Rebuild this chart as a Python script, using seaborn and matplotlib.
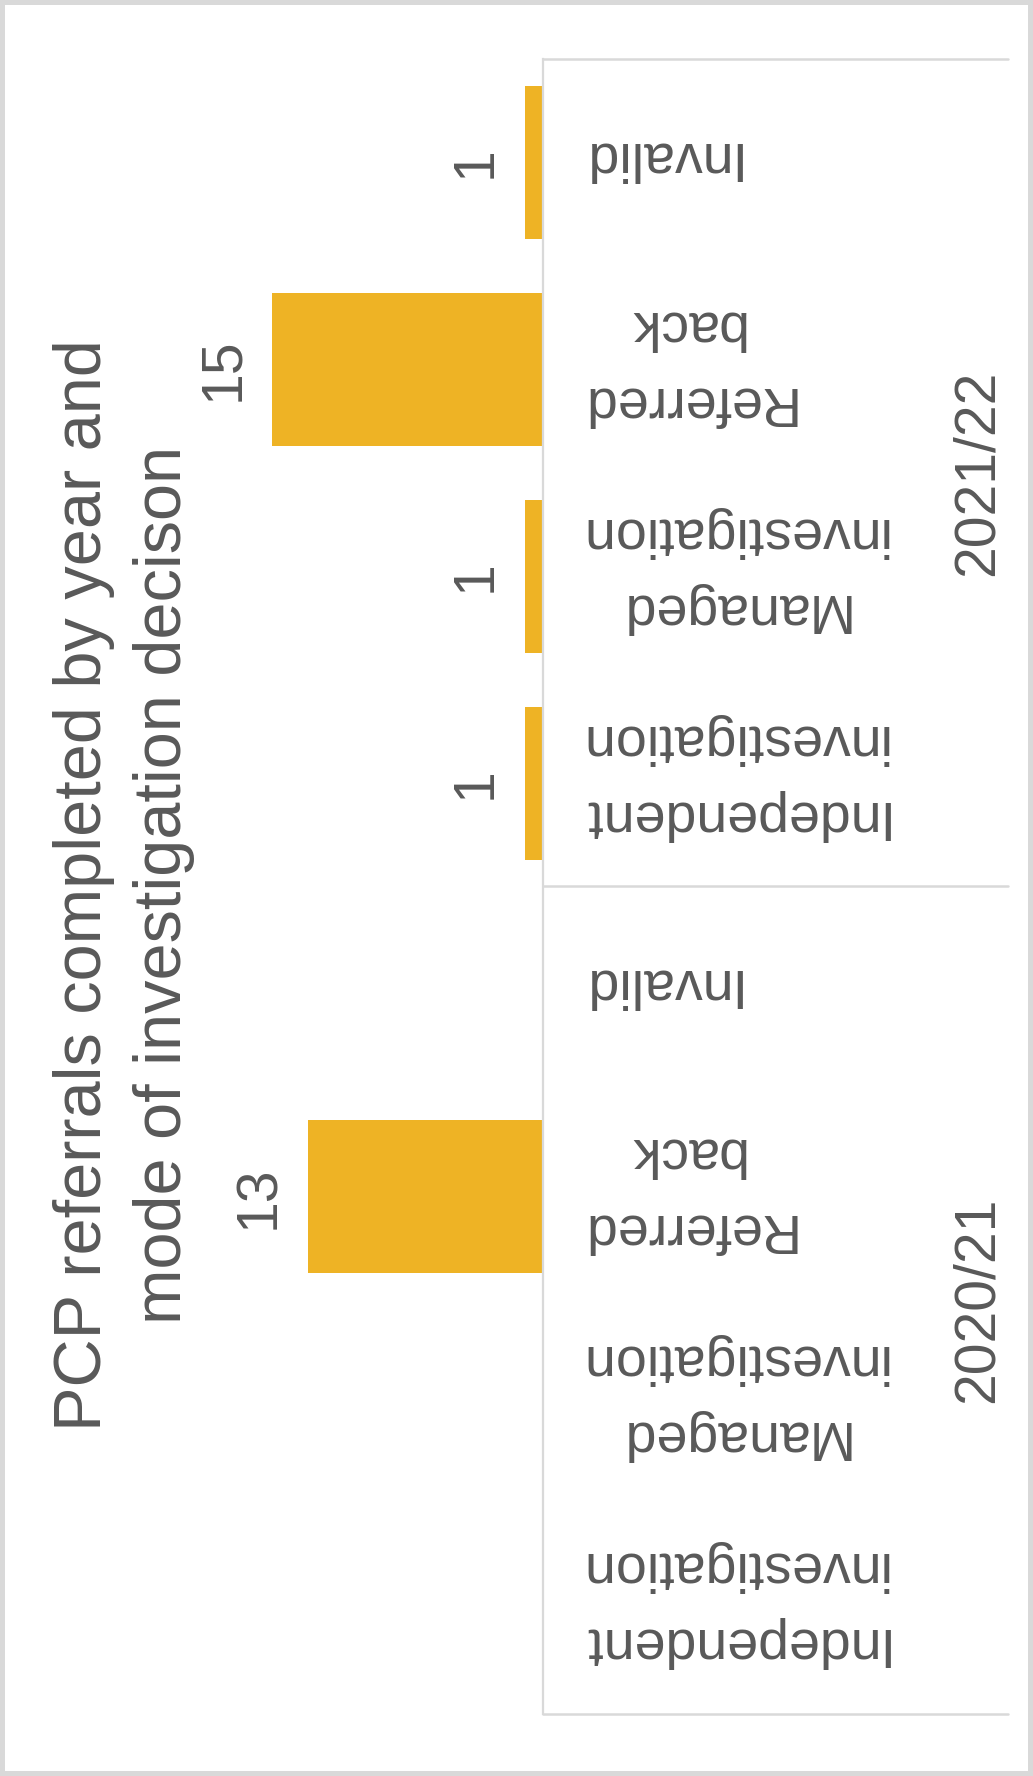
import matplotlib
matplotlib.use("Agg")
import matplotlib.pyplot as plt
import matplotlib.transforms as mtransforms
from matplotlib.lines import Line2D
import seaborn as sns
import pandas as pd

# ---- data -------------------------------------------------------------
years = ["2020/21", "2021/22"]
decisions = ["Independent\ninvestigation", "Managed\ninvestigation",
             "Referred\nback", "Invalid"]
counts_2020_21 = [0, 0, 13, 0]
counts_2021_22 = [1, 1, 15, 1]
title_lines = ["PCP referrals completed by year and",
               "mode of investigation decison"]

# ---- styling ----------------------------------------------------------
GOLD = "#EEB325"
TEXT = "#595959"
GRID = "#D9D9D9"

sns.set_theme(style="white")
plt.rcParams["font.family"] = ["Liberation Sans", "DejaVu Sans"]

W, H = 1033, 1776
fig = plt.figure(figsize=(W / 100, H / 100), dpi=100)
fig.patch.set_facecolor("white")
fig.patch.set_edgecolor(GRID)
fig.patch.set_linewidth(6)

# long table; the chart is laid out sideways with the latest year on top
counts = {"2020/21": counts_2020_21, "2021/22": counts_2021_22}
rows = []
for yr in reversed(years):
    for dec, val in reversed(list(zip(decisions, counts[yr]))):
        rows.append({"year": yr, "decision": dec,
                     "key": f"{yr}|{dec}", "count": val})
df = pd.DataFrame(rows)
order = list(df["key"])

# plot area: value axis grows to the left from x = 543 px
axis_x, top_y, bot_y = 543, 59, 1714
left_x = 20
px_per_count = 18.07
ax = fig.add_axes([left_x / W, 1 - bot_y / H,
                   (axis_x - left_x) / W, (bot_y - top_y) / H])

sns.barplot(data=df, x="count", y="key", order=order, orient="h",
            color=GOLD, saturation=1, width=0.74, linewidth=0, ax=ax)

ax.set_xlim((axis_x - left_x) / px_per_count, 0)
ax.set_ylim(len(order) - 0.5, -0.5)
ax.set_xticks([])
ax.set_yticks([])
ax.set_xlabel("")
ax.set_ylabel("")
for side in ("top", "left", "bottom"):
    ax.spines[side].set_visible(False)
ax.spines["right"].set_color(GRID)
ax.spines["right"].set_linewidth(1.6)

# value labels at the bar ends
ax.bar_label(ax.containers[0],
             labels=[str(v) if v else "" for v in df["count"]],
             padding=16, rotation=90, fontsize=41, color=TEXT)

trans = mtransforms.blended_transform_factory(fig.transFigure, ax.transData)

# decision labels (upside down, as in the sideways layout)
for i, dec in enumerate(df["decision"]):
    ax.text(577 / W, i - 0.03, dec, transform=trans, rotation=180,
            ha="left", va="center", multialignment="center",
            linespacing=1.6, fontsize=40, color=TEXT)

# year group labels and separators
n_per = len(decisions)
for g, yr in enumerate(reversed(years)):
    ax.text(978 / W, g * n_per + (n_per - 1) / 2, yr, transform=trans,
            rotation=90, ha="center", va="center", fontsize=41, color=TEXT)
for yb in [-0.5 + g * n_per for g in range(len(years) + 1)]:
    ax.add_line(Line2D([axis_x / W, 1008 / W], [yb, yb], transform=trans,
                       color=GRID, linewidth=1.8, clip_on=False))

# two-line title, each line centred on its own baseline
for line, base_x in zip(title_lines, [101, 181]):
    fig.text(base_x / W, 1 - 885 / H, line, rotation=90,
             rotation_mode="anchor", ha="center", va="baseline",
             fontsize=48, color=TEXT)

fig.savefig("out.png", dpi=100, facecolor="white", edgecolor=GRID)
